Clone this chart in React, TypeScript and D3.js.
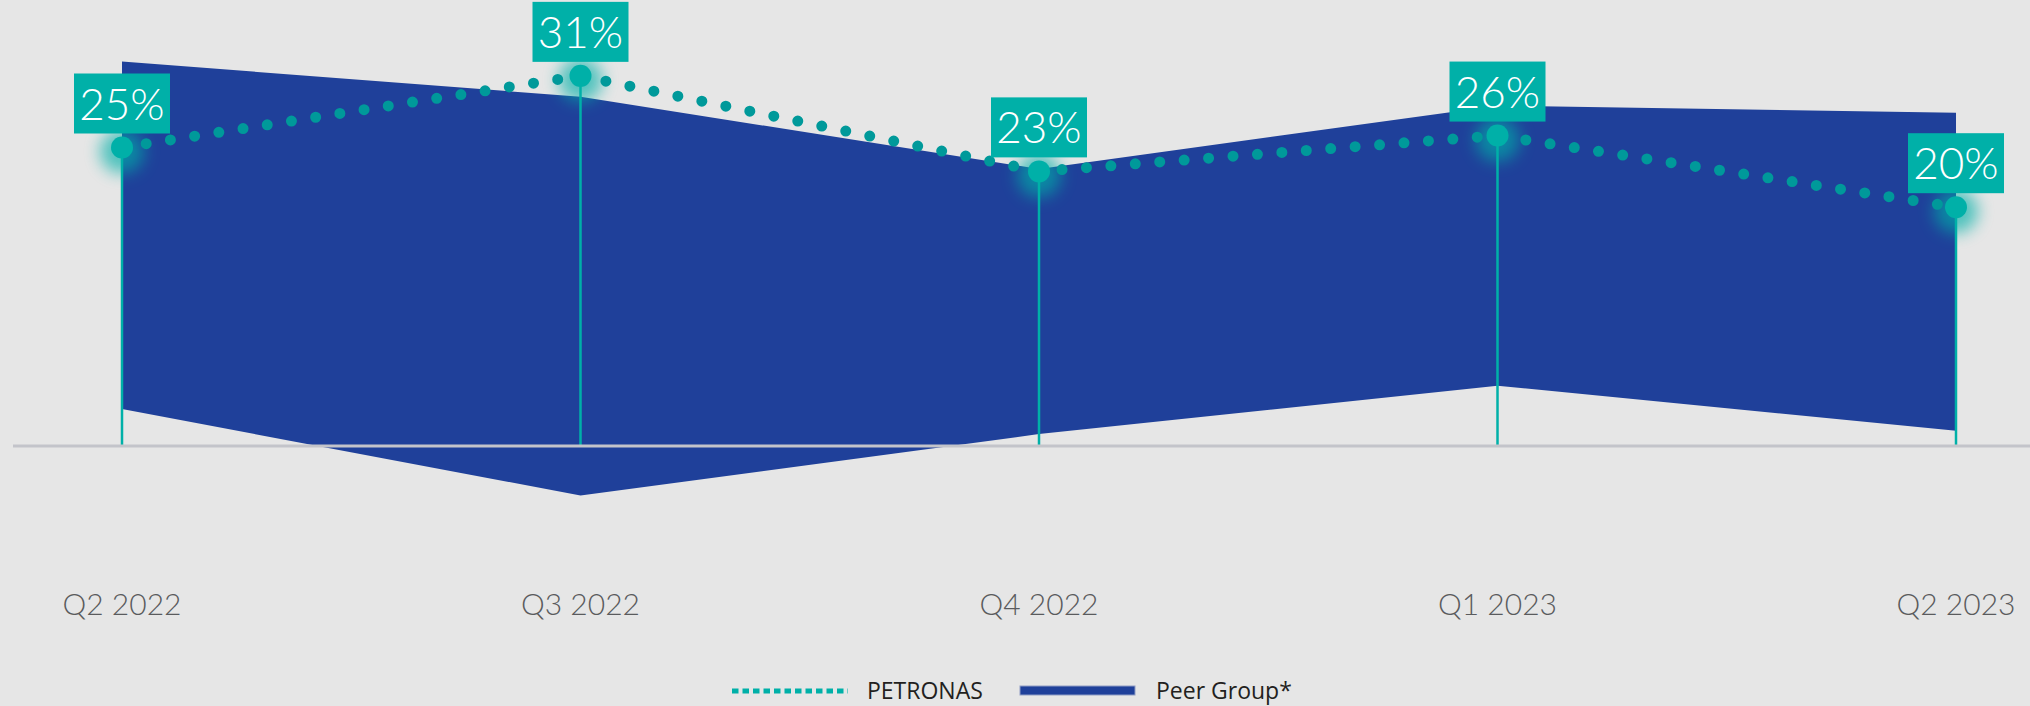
import React from "react";
import * as d3 from "d3";

const categories = ["Q2 2022", "Q3 2022", "Q4 2022", "Q1 2023", "Q2 2023"];
const petronas = [25, 31, 23, 26, 20];
const petronasLabels = ["25%", "31%", "23%", "26%", "20%"];
const peerUpper = [32.2, 29.25, 23.2, 28.5, 27.9];
const peerLower = [3.1, -4.15, 1.0, 5.05, 1.28];
const legendItems = ["PETRONAS", "Peer Group*"];

const W = 2030;
const H = 706;
const TEAL = "#00b0a8";
const DOT = "#00999a";
const BLUE = "#1f409a";
const BG = "#e6e6e6";

export default function App() {
  const x = d3.scalePoint<string>().domain(categories).range([122, 1956]);
  const y = d3.scaleLinear().domain([0, 30]).range([446, 446 - 11.94 * 30]);

  const area = d3
    .area<number>()
    .x((_, i) => x(categories[i]) as number)
    .y0((_, i) => y(peerLower[i]))
    .y1((d) => y(d))
    .curve(d3.curveLinear)(peerUpper) as string;

  const line = d3
    .line<number>()
    .x((_, i) => x(categories[i]) as number)
    .y((d) => y(d))
    .curve(d3.curveLinear)(petronas) as string;

  const baseY = y(0);
  const boxW = 96;
  const boxH = 60;

  return (
    <svg
      width={W}
      height={H}
      style={{ position: "absolute", left: 0, top: 0, display: "block" }}
    >
      <defs>
        <filter id="glow" x="-100%" y="-100%" width="300%" height="300%">
          <feGaussianBlur stdDeviation="8" />
        </filter>
      </defs>
      <rect x={0} y={0} width={W} height={H} fill={BG} />
      <path d={area} fill={BLUE} />
      {petronas.map((v, i) => (
        <circle
          key={"g" + i}
          cx={x(categories[i]) as number}
          cy={y(v) + 4}
          r={22}
          fill={TEAL}
          opacity={0.65}
          filter="url(#glow)"
        />
      ))}
      {petronas.map((v, i) => (
        <line
          key={"v" + i}
          x1={x(categories[i]) as number}
          x2={x(categories[i]) as number}
          y1={y(v)}
          y2={baseY}
          stroke={TEAL}
          strokeWidth={2.5}
        />
      ))}
      <line x1={13} x2={W} y1={baseY} y2={baseY} stroke="#c3c4ca" strokeWidth={3} />
      <path
        d={line}
        fill="none"
        stroke={DOT}
        strokeWidth={11}
        strokeLinecap="round"
        strokeDasharray="0 24.5"
      />
      {petronas.map((v, i) => (
        <circle key={"d" + i} cx={x(categories[i]) as number} cy={y(v)} r={11} fill={TEAL} />
      ))}
      {petronas.map((v, i) => {
        const cx = x(categories[i]) as number;
        const top = y(v) - 14 - boxH;
        return (
          <g key={"l" + i}>
            <rect x={cx - boxW / 2} y={top} width={boxW} height={boxH} fill={TEAL} />
            <text
              x={cx}
              y={top + 46}
              textAnchor="middle"
              fill="#ffffff"
              fontFamily="Lato"
              fontWeight={300}
              fontSize={44}
            >
              {petronasLabels[i]}
            </text>
          </g>
        );
      })}
      {categories.map((c) => (
        <text
          key={c}
          x={x(c) as number}
          y={615}
          textAnchor="middle"
          fill="#5a5b5d"
          fontFamily="Lato"
          fontWeight={300}
          fontSize={30}
        >
          {c}
        </text>
      ))}
      <g>
        <line
          x1={732}
          x2={848}
          y1={691}
          y2={691}
          stroke={TEAL}
          strokeWidth={5}
          strokeDasharray="6.5 4"
        />
        <text x={867} y={699} fontFamily="Open Sans" fontSize={23} fill="#231f20">
          {legendItems[0]}
        </text>
        <rect x={1020} y={686} width={115} height={9} fill={BLUE} stroke="#8f9cc4" strokeWidth={1} />
        <text x={1156} y={699} fontFamily="Open Sans" fontSize={23} fill="#231f20">
          {legendItems[1]}
        </text>
      </g>
    </svg>
  );
}
